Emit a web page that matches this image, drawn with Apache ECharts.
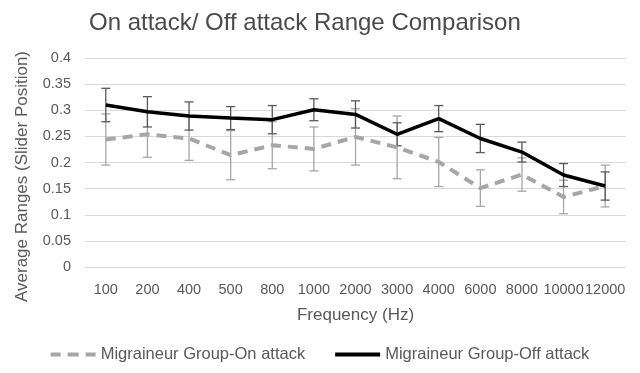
<!DOCTYPE html>
<html>
<head>
<meta charset="utf-8">
<script src="https://cdn.jsdelivr.net/npm/echarts@6/dist/echarts.min.js"></script>
<style>
  html, body { margin: 0; padding: 0; background: #fff; }
  #chart { width: 640px; height: 373px; }
</style>
</head>
<body>
<div id="chart"></div>
<script>
// Frequency bands (Hz)
const frequencies = ['100', '200', '400', '500', '800', '1000', '2000', '3000', '4000', '6000', '8000', '10000', '12000'];

// Average ranges during an attack, with error half-widths
const onAttack    = [0.244, 0.254, 0.246, 0.214, 0.233, 0.226, 0.249, 0.229, 0.201, 0.151, 0.177, 0.134, 0.155];
const onAttackErr = [0.049, 0.044, 0.042, 0.047, 0.045, 0.042, 0.054, 0.060, 0.047, 0.035, 0.032, 0.032, 0.040];

// Average ranges outside an attack, with error half-widths
const offAttack    = [0.310, 0.297, 0.289, 0.285, 0.282, 0.301, 0.292, 0.254, 0.284, 0.246, 0.220, 0.176, 0.155];
const offAttackErr = [0.032, 0.029, 0.027, 0.022, 0.027, 0.021, 0.026, 0.022, 0.025, 0.027, 0.019, 0.022, 0.027];

const yTicks = { min: 0, max: 0.4, interval: 0.05 };

const FONT = '"Liberation Sans", Arial, sans-serif';
const TEXT = '#595959';

function errorSeries(values, errs, color, name) {
  return {
    type: 'custom',
    name: name + ' error',
    z: 1,
    silent: true,
    data: values.map((v, i) => [i, v - errs[i], v + errs[i]]),
    renderItem: function (params, api) {
      const x = api.value(0);
      const lo = api.coord([x, api.value(1)]);
      const hi = api.coord([x, api.value(2)]);
      const half = 4.5;
      const style = { stroke: color, lineWidth: 1.3 };
      return {
        type: 'group',
        children: [
          { type: 'line', shape: { x1: hi[0], y1: hi[1], x2: lo[0], y2: lo[1] }, style },
          { type: 'line', shape: { x1: hi[0] - half, y1: hi[1], x2: hi[0] + half, y2: hi[1] }, style },
          { type: 'line', shape: { x1: lo[0] - half, y1: lo[1], x2: lo[0] + half, y2: lo[1] }, style }
        ]
      };
    }
  };
}

const chart = echarts.init(document.getElementById('chart'), null, { renderer: 'canvas' });

chart.setOption({
  animation: false,
  backgroundColor: '#ffffff',
  textStyle: { fontFamily: FONT },
  title: {
    text: 'On attack/ Off attack Range Comparison',
    left: 84,
    top: 6,
    textStyle: { fontFamily: FONT, fontSize: 24, fontWeight: 'normal', color: '#4a4a4a' }
  },
  grid: { left: 85, right: 14, top: 58, bottom: 106 },
  legend: {
    bottom: 5,
    left: 'center',
    itemGap: 30,
    itemWidth: 45,
    itemHeight: 4,
    textStyle: { fontFamily: FONT, fontSize: 16.5, color: TEXT },
    data: [
      { name: 'Migraineur Group-On attack', icon: 'path://M0,0h10v4h-10z M17,0h11v4h-11z M35,0h10v4h-10z', itemStyle: { color: '#a6a6a6' } },
      { name: 'Migraineur Group-Off attack', icon: 'rect', itemStyle: { color: '#000000' } }
    ]
  },
  xAxis: {
    type: 'category',
    data: frequencies,
    boundaryGap: true,
    name: 'Frequency (Hz)',
    nameLocation: 'middle',
    nameGap: 40,
    nameTextStyle: { fontFamily: FONT, fontSize: 17, color: TEXT },
    axisLine: { show: false },
    axisTick: { show: false },
    axisLabel: { interval: 0, margin: 15, fontFamily: FONT, fontSize: 14.5, color: TEXT }
  },
  yAxis: {
    type: 'value',
    min: yTicks.min,
    max: yTicks.max,
    interval: yTicks.interval,
    name: 'Average Ranges (Slider Position)',
    nameLocation: 'middle',
    nameGap: 54,
    nameTextStyle: { fontFamily: FONT, fontSize: 17, color: TEXT, padding: [0, 28, 0, 0] },
    axisLine: { show: false },
    axisTick: { show: false },
    axisLabel: {
      margin: 14,
      fontFamily: FONT,
      fontSize: 14.5,
      color: TEXT,
      formatter: v => String(parseFloat(v.toFixed(2)))
    },
    splitLine: { lineStyle: { color: '#d9d9d9', width: 1.2 } }
  },
  series: [
    errorSeries(onAttack, onAttackErr, '#a6a6a6', 'on'),
    errorSeries(offAttack, offAttackErr, '#595959', 'off'),
    {
      type: 'line',
      name: 'Migraineur Group-On attack',
      data: onAttack,
      z: 2,
      symbol: 'none',
      lineStyle: { color: '#a6a6a6', width: 4, type: [10, 7] },
      itemStyle: { color: '#a6a6a6' }
    },
    {
      type: 'line',
      name: 'Migraineur Group-Off attack',
      data: offAttack,
      z: 3,
      symbol: 'none',
      lineStyle: { color: '#000000', width: 3.5 },
      itemStyle: { color: '#000000' }
    }
  ]
});
</script>
</body>
</html>
